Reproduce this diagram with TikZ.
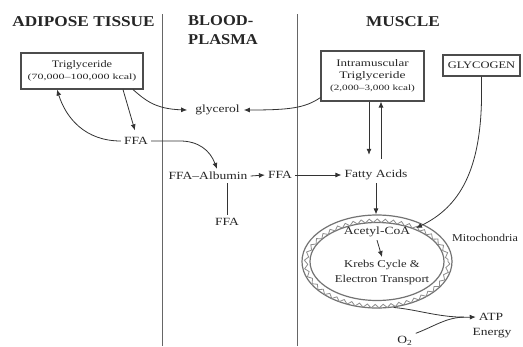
\documentclass[tikz,border=0pt]{standalone}
\usepackage{fontspec}
\setmainfont{Liberation Serif}
\usetikzlibrary{arrows.meta,shapes.geometric,decorations.pathmorphing}
\newcommand\hs[2][1.23]{\scalebox{#1}[1]{#2}}
\newcommand\fs[2]{\fontsize{#1}{#2}\selectfont}
\begin{document}
\begin{tikzpicture}[x=1pt,y=-1pt,
 txt/.style={inner sep=3pt, font=\fs{11}{13}, text=black!85},
 head/.style={inner sep=0pt, font=\fs{15}{17}\bfseries, text=black!85},
 box/.style={draw=black!70, line width=1.1pt, inner sep=0pt, align=center, text=black!85},
 con/.style={draw=black!80, line width=0.8pt},
 arr/.style={con, -{Latex[length=6pt,width=5pt]}},
 rim/.style={draw=black!55, line width=1.2pt},
]
\useasboundingbox[fill=white] (0,0) rectangle (523,346);

% headings
\node[head] (adip) at (83.5,22) {\hs[1.15]{ADIPOSE TISSUE}};
\node[head, anchor=west] (blood) at (188,20.5) {\hs[1.1]{BLOOD-}};
\node[head, anchor=west] (plasma) at (188,40) {\hs[1.1]{PLASMA}};
\node[head] (muscle) at (403,22) {\hs[1.15]{MUSCLE}};

% dividers
\coordinate (l1t) at (162,14); \coordinate (l1b) at (162,346);
\coordinate (l2t) at (297,14); \coordinate (l2b) at (297,346);
\draw[draw=black!60, line width=1pt] (l1t) -- (l1b);
\draw[draw=black!60, line width=1pt] (l2t) -- (l2b);

% boxes
\node[box, minimum width=122pt, minimum height=36pt] (tri) at (82,71)
 {\fs{10}{12}\hs{Triglyceride}\\\fs{8}{9}\hs[1.5]{(70,000--100,000 kcal)}};
\node[box, minimum width=103pt, minimum height=50pt] (intra) at (372.5,76)
 {\fs{10}{13}\hs[1.3]{Intramuscular}\\\hs[1.35]{Triglyceride}\\\fs{8}{13}\hs[1.4]{(2,000--3,000 kcal)}};
\node[box, minimum width=77pt, minimum height=21pt] (glyco) at (481.5,65.5)
 {\fs{10}{12}\hs[1.25]{GLYCOGEN}};

% texts
\node[txt] (glyc) at (217.5,110) {\hs{glycerol}};
\node[txt] (ffa1) at (136,141) {\hs{FFA}};
\node[txt] (alb) at (208,176) {\hs{FFA\textendash Albumin}};
\node[txt] (ffa2) at (280,175) {\hs{FFA}};
\node[txt] (ffa3) at (227,222) {\hs{FFA}};
\node[txt] (fatty) at (376,175) {\hs{Fatty Acids}};

% mitochondrion
\node[ellipse, rim, inner sep=0pt, minimum width=150pt, minimum height=93pt] (mito) at (377,261.5) {};
\draw[rim] (mito.center) ellipse [x radius=67, y radius=39];
\draw[draw=black!45, line width=0.8pt, decorate, decoration={snake, amplitude=1.8pt, segment length=8pt}]
 (mito.center) ellipse [x radius=71, y radius=42.75];

\node[txt] (acetyl) at (377,232) {\hs{Acetyl-CoA}};
\node[txt, align=center, font=\fs{10.5}{15}] (krebs) at (382,272.5) {\hs[1.2]{Krebs Cycle \&}\\\hs[1.2]{Electron Transport}};
\node[txt, anchor=west, inner sep=0pt, font=\fs{10.5}{13}] (mitolab) at (452,238) {\hs[1.15]{Mitochondria}};
\node[txt] (atp) at (491,317) {\hs{ATP}};
\node[txt] (energy) at (492,333) {\hs{Energy}};
\node[txt] (o2) at (405,341) {\hs{O\textsubscript{2}}};

% connectors
\draw[arr] ([xshift=51pt]tri.south) .. controls (145,100) and (155,109) .. ([xshift=-5pt]glyc.west);
\draw[arr] ([yshift=4pt]intra.south west) .. controls (305,108) and (290,110) .. ([xshift=1pt]glyc.east);
\draw[arr, shorten >=4pt] ([xshift=41pt]tri.south) -- (ffa1.north);
\draw[arr] (ffa1.west) .. controls (85,141) and (66,118) .. ([xshift=-25pt]tri.south);
\draw[arr] (ffa1.east) -- (180,141) .. controls (198,141) and (210,150) .. ([xshift=9pt]alb.north);
\draw[arr] (alb.east) -- (ffa2.west);
\draw[arr] (ffa2.east) -- (fatty.west);
\draw[con] ([xshift=19pt]alb.south) -- (ffa3.north);
\draw[arr] ([xshift=-3.5pt]intra.south) -- ([xshift=-7pt,yshift=12pt]fatty.north);
\draw[arr] ([xshift=5pt,yshift=8pt]fatty.north) -- ([xshift=8.5pt]intra.south);
\draw[arr] (fatty.south) -- (fatty.south |- mito.north);
\draw[arr] (acetyl.south) -- (krebs.north);
\coordinate (gend) at (416,228);
\draw[arr] (glyco.south) -- ++(0,24) .. controls (480,170) and (460,207) .. (gend);
\draw[arr] (mito.-70) .. controls (420,310) and (440,318) .. (atp.west);
\draw[con] (o2.north east) .. controls (435,326) and (445,318) .. ([xshift=-12pt]atp.west);
\end{tikzpicture}
\end{document}
